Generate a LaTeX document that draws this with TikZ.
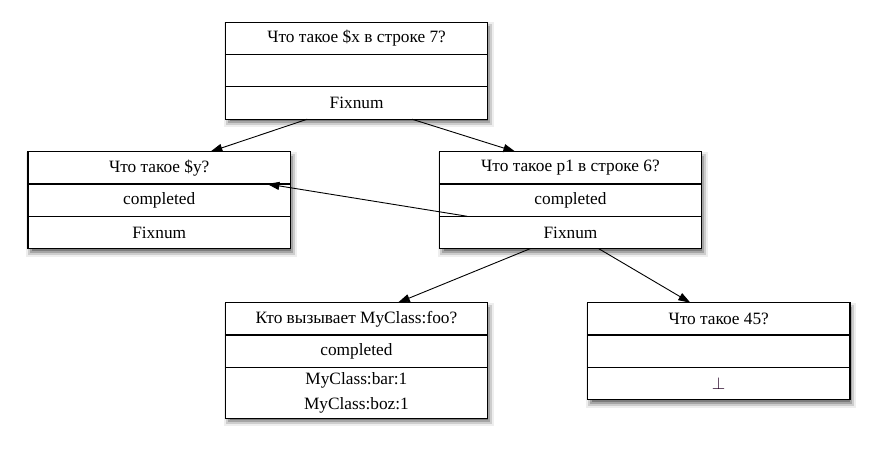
\documentclass[tikz,border=0pt]{standalone}
\usepackage{fontspec}
\setmainfont{Liberation Serif}
\usetikzlibrary{calc,arrows.meta}
\definecolor{perpcol}{RGB}{35,0,35}
\definecolor{shgA}{RGB}{238,238,238}
\definecolor{shgB}{RGB}{205,205,205}
\definecolor{shgC}{RGB}{165,165,165}
\definecolor{shgD}{RGB}{125,125,125}
\tikzset{
  row/.style={draw, line width=1.1pt, fill=white, minimum width=262.5pt, minimum height=32.3pt,
    inner sep=0pt, outer sep=0pt, anchor=north, font=\fontsize{17.3}{25}\selectfont, align=center},
  arr/.style={line width=0.9pt, -{Triangle[length=12pt,width=8pt]}}
}
\newcommand\boxshadow[4]{%
  \fill[shgA] (#1-1.5, #2) rectangle (#3+6.5, #4+8);
  \fill[shgB] (#1+0.5, #2+2) rectangle (#3+4.5, #4+6);
  \fill[shgC] (#1+2.5, #2+4) rectangle (#3+2.5, #4+4);
  \fill[shgD] (#1+4.5, #2+6) rectangle (#3+0.5, #4+2);
}
\begin{document}
\begin{tikzpicture}[x=1pt,y=-1pt]
\useasboundingbox (0,0) rectangle (877,452);
% shadows
\boxshadow{225.35}{22.3}{487.85}{119.2}
\boxshadow{27.95}{151.7}{290.45}{248.6}
\boxshadow{439.25}{151.7}{701.75}{248.6}
\boxshadow{225.15}{302.7}{487.65}{418.3}
\boxshadow{587.45}{302.7}{849.95}{399.6}
% A
\node[row] (A1) at (356.6,22.3) {Что такое \$x в строке 7?};
\node[row] (A2) at (A1.south) {};
\node[row] (A3) at (A2.south) {Fixnum};
% B
\node[row] (B1) at (159.2,151.7) {Что такое \$y?};
\node[row] (B2) at (B1.south) {completed};
\node[row] (B3) at (B2.south) {Fixnum};
% C
\node[row] (C1) at (570.5,151.7) {Что такое p1 в строке 6?};
\node[row] (C2) at (C1.south) {completed};
\node[row] (C3) at (C2.south) {Fixnum};
% D
\node[row] (D1) at (356.4,302.7) {Кто вызывает MyClass:foo?};
\node[row] (D2) at (D1.south) {completed};
\node[row, minimum height=51pt] (D3) at (D2.south) {MyClass:bar:1\\MyClass:boz:1};
% E
\node[row] (E1) at (718.7,302.7) {Что такое 45?};
\node[row] (E2) at (E1.south) {};
\node[row] (E3) at (E2.south) {\textcolor{perpcol}{$\perp$}};
% connectors
\draw[arr] ($(A3.south west)!0.312!(A3.south east)$) -- ($(B1.north west)!0.695!(B1.north east)$);
\draw[arr] ($(A3.south west)!0.711!(A3.south east)$) -- ($(C1.north west)!0.29!(C1.north east)$);
\draw[arr] ($(C3.north west)!0.107!(C3.north east)$) -- ($(B2.north west)!0.912!(B2.north east)$);
\draw[arr] ($(C3.south west)!0.347!(C3.south east)$) -- ($(D1.north west)!0.658!(D1.north east)$);
\draw[arr] ($(C3.south west)!0.607!(C3.south east)$) -- ($(E1.north west)!0.392!(E1.north east)$);
\end{tikzpicture}
\end{document}
